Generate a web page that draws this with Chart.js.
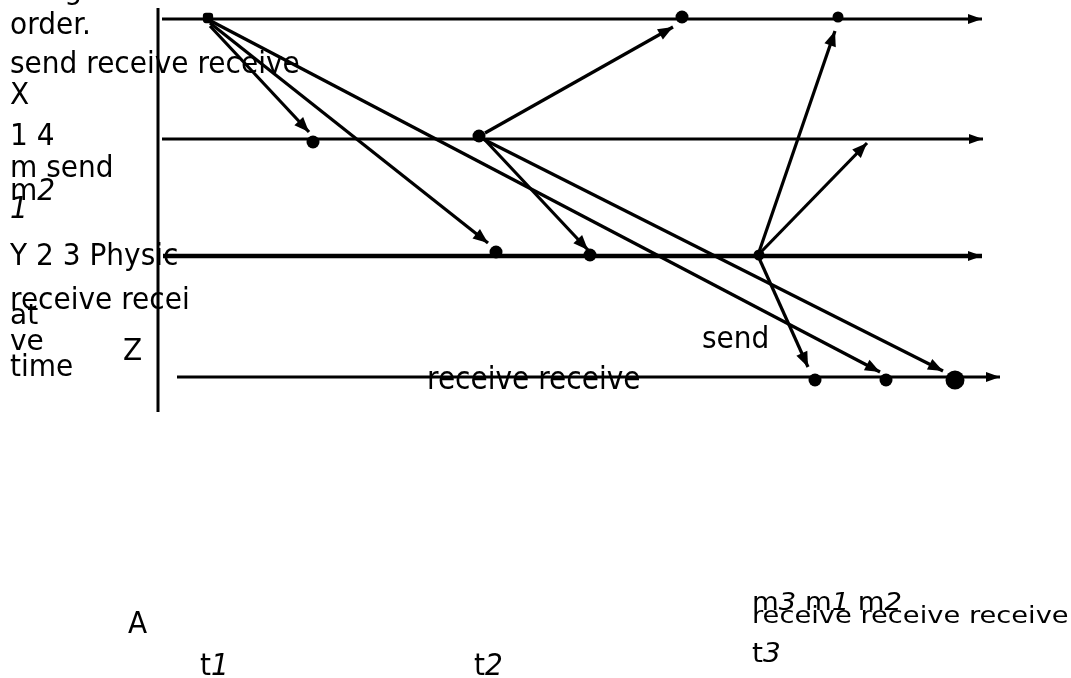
<!DOCTYPE html>
<html>
<head>
<meta charset="utf-8">
<title>Message ordering</title>
<script src="https://cdn.jsdelivr.net/npm/chart.js@4"></script>
<style>
  html, body { margin:0; padding:0; background:#fff; }
  #wrap { width:1071px; height:678px; position:relative; }
</style>
</head>
<body>
<div id="wrap"><canvas id="diagram"></canvas></div>
<script>
// process lines, time runs left -> right
const laneY     = [19, 139, 256, 377];
const laneStart = [162, 162, 163, 177];
const laneEnd   = [982, 983, 982, 1000];

// physical time axis (vertical)
const axisX = [158, 158];
const axisY = [8, 412];

// send / receive events
const eventX = [208, 682, 838, 313, 479, 496, 590, 759, 815, 886, 955];
const eventY = [18, 17, 17, 142, 136, 252, 255, 255, 380, 380, 380];

// messages: tail -> arrow tip
const msgFromX = [210, 210, 209, 485, 485, 481, 759, 761, 759];
const msgFromY = [26, 23, 20, 133, 140, 138, 252, 252, 258];
const msgToX   = [309, 488, 880, 673, 588, 943, 835, 867, 808];
const msgToY   = [132, 243, 372, 27, 250, 371, 31, 143, 367];

// text labels (* marks italic)
const labelText = ["ering", "order.", "send receive receive", "X", "1 4", "m send", "m*2*", "*1*",
  "Y 2 3 Physic", "receive recei", "at", "ve", "time", "Z", "send", "receive receive",
  "A", "t*1*", "t*2*", "m*3* m*1* m*2*", "receive receive receive", "t*3*"];
const labelX = [10, 10, 10, 10, 10, 10, 10, 10, 10, 10, 10, 10, 10, 123, 702, 427, 128, 200, 474, 752, 752, 752];
const labelY = [-1, 34, 73, 104, 145, 177, 200, 218, 265, 309, 324, 350, 376, 360, 348, 389, 633, 675, 675, 610, 623, 662];
const labelStretch = [1, 1.05, 1.05, 1.05, 1.1, 1.05, 1.05, 1.05, 1.1, 1.05, 1, 1, 1.05, 1.1, 1.05, 1.15, 1.1, 1.05, 1.05, 0.9, 0.8, 0.95];
const labelSqueeze = [1, 1, 1, 1, 1, 1, 1, 1, 1, 1, 1, 1, 1, 1, 1, 1, 1, 1, 1, 0.98, 0.975, 1];

const FONT = '"DejaVu Sans", sans-serif';

function seg(x0, y0, x1, y1){
  return [{x:x0, y:y0}, {x:x1, y:y1}];
}

const datasets = [];

// dots on top
datasets.push({
  data: eventX.map((x,i)=>({x:x, y:eventY[i]})),
  showLine: false,
  order: -1,
  backgroundColor: "#000",
  borderColor: "#000",
  borderWidth: 0,
  pointStyle: ["rectRounded","circle","circle","circle","circle","circle","circle","circle","circle","circle","circle"],
  pointRadius: [6, 6.5, 5.5, 6.5, 6.5, 6.5, 6.5, 5.5, 6.5, 6.5, 9.5]
});

datasets.push({
  data: seg(axisX[0], axisY[0], axisX[1], axisY[1]),
  showLine: true, borderColor: "#000", borderWidth: 3, pointRadius: 0
});

laneY.forEach((y,i)=>{
  datasets.push({
    data: seg(laneStart[i], y, laneEnd[i], y),
    showLine: true, borderColor: "#000", borderWidth: i===2 ? 4.5 : 3, pointRadius: 0,
    arrow: {len: 14, half: 5}
  });
});

msgFromX.forEach((x,i)=>{
  datasets.push({
    data: seg(x, msgFromY[i], msgToX[i], msgToY[i]),
    showLine: true, borderColor: "#000", borderWidth: 3.2, pointRadius: 0,
    arrow: {len: 15, half: 6}
  });
});

// arrow heads at the end of a line
const arrowHeads = {
  id: "arrowHeads",
  afterDatasetsDraw(chart){
    const ctx = chart.ctx;
    chart.data.datasets.forEach((ds, i)=>{
      if(!ds.arrow) return;
      const pts = chart.getDatasetMeta(i).data;
      const a = pts[pts.length-2], b = pts[pts.length-1];
      const ang = Math.atan2(b.y - a.y, b.x - a.x);
      ctx.save();
      ctx.translate(b.x, b.y);
      ctx.rotate(ang);
      ctx.beginPath();
      ctx.moveTo(0, 0);
      ctx.lineTo(-ds.arrow.len, -ds.arrow.half);
      ctx.lineTo(-ds.arrow.len, ds.arrow.half);
      ctx.closePath();
      ctx.fillStyle = "#000";
      ctx.fill();
      ctx.restore();
    });
  }
};

// free text labels
const textLabels = {
  id: "textLabels",
  afterDraw(chart){
    const ctx = chart.ctx;
    const xs = chart.scales.x, ys = chart.scales.y;
    ctx.save();
    ctx.fillStyle = "#000";
    ctx.textBaseline = "alphabetic";
    ctx.textAlign = "left";
    labelText.forEach((txt, i)=>{
      const px = xs.getPixelForValue(labelX[i]);
      const py = ys.getPixelForValue(labelY[i]);
      ctx.save();
      ctx.translate(px, py);
      ctx.scale(labelSqueeze[i], labelStretch[i]);
      let cx = 0;
      txt.split("*").forEach((part, k)=>{
        if(!part) return;
        ctx.font = (k % 2 ? "italic " : "") + "28px " + FONT;
        ctx.fillText(part, cx, 0);
        cx += ctx.measureText(part).width;
      });
      ctx.restore();
    });
    ctx.restore();
  }
};

new Chart(document.getElementById("diagram"), {
  type: "scatter",
  data: { datasets: datasets },
  options: {
    responsive: true,
    maintainAspectRatio: false,
    animation: false,
    events: [],
    layout: { padding: 0, autoPadding: false },
    plugins: { legend: {display:false}, tooltip: {enabled:false} },
    elements: { line: { tension: 0, borderCapStyle: "butt" } },
    scales: {
      x: { type: "linear", min: 0, max: 1071, display: false },
      y: { type: "linear", min: 0, max: 678, reverse: true, display: false }
    }
  },
  plugins: [arrowHeads, textLabels]
});
</script>
</body>
</html>
